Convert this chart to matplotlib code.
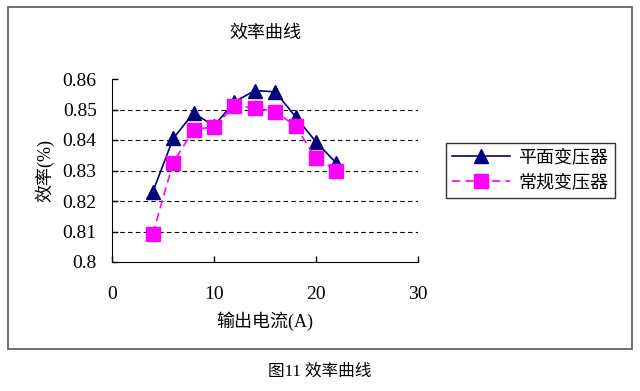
import matplotlib
matplotlib.use("Agg")
import matplotlib.pyplot as plt
from matplotlib.patches import Rectangle

plt.rcParams['font.family'] = ['Liberation Serif', 'Noto Sans CJK SC']

# 数据
dianliu = [4, 6, 8, 10, 12, 14, 16, 18, 20, 22]
pingmian = [0.8230, 0.8405, 0.8489, 0.8446, 0.8525, 0.8562, 0.8558, 0.8476, 0.8394, 0.8324]
changgui = [0.8092, 0.8326, 0.8433, 0.8444, 0.8510, 0.8506, 0.8493, 0.8446, 0.8340, 0.8300]
y_ticks = [0.80, 0.81, 0.82, 0.83, 0.84, 0.85, 0.86]
y_labels = ['0.8', '0.81', '0.82', '0.83', '0.84', '0.85', '0.86']
x_ticks = [0, 10, 20, 30]

fig = plt.figure(figsize=(6.4, 3.91), dpi=100)
fig.patches.append(Rectangle((8 / 640, 1 - 349 / 391), 624 / 640, 342 / 391,
                             transform=fig.transFigure, fill=False,
                             edgecolor='#555555', linewidth=1.2))

ax = fig.add_axes([112 / 640, 1 - 262 / 391, 306 / 640, 183 / 391])

for y in y_ticks[1:-1]:
    ax.axhline(y, color='black', linestyle=(0, (4, 3)), linewidth=0.8, zorder=1)

ax.plot(dianliu, pingmian, color='#000080', linewidth=1.2, marker='^',
        markersize=10.5, markerfacecolor='#000080', markeredgecolor='#000080',
        label='平面变压器', zorder=3)
ax.plot(dianliu, changgui, color='#FF00FF', linewidth=1.2, linestyle=(0, (5, 3)),
        marker='s', markersize=10, markerfacecolor='#FF00FF',
        markeredgecolor='#FF00FF', label='常规变压器', zorder=4)

ax.set_xlim(0, 30)
ax.set_ylim(0.80, 0.86)
ax.set_xticks(x_ticks)
ax.set_yticks(y_ticks)
ax.set_yticklabels(y_labels)
ax.tick_params(labelsize=14, direction='in', length=4, width=1, color='black')
ax.tick_params(axis='x', pad=17)
ax.tick_params(axis='y', pad=11)
ax.spines['top'].set_visible(False)
ax.spines['right'].set_visible(False)
ax.spines['left'].set_color('black')
ax.spines['bottom'].set_color('black')

ax.set_xlabel('输出电流(A)', fontsize=13, labelpad=6)
ax.set_ylabel('效率(%)', fontsize=13, labelpad=6)
ax.set_title('效率曲线', fontsize=13, pad=30)

leg = fig.legend(loc='upper left', bbox_to_anchor=(446 / 640, 1 - 143 / 391),
                 fontsize=13, frameon=True, fancybox=False, edgecolor='black',
                 handlelength=3.2, borderpad=0.35, labelspacing=0.45,
                 handletextpad=0.45, borderaxespad=0)
leg.get_frame().set_linewidth(1.0)

fig.text(0.5, 1 - 372 / 391, '图11 效率曲线', ha='center', va='center', fontsize=12)

fig.savefig('out.png', dpi=100)
